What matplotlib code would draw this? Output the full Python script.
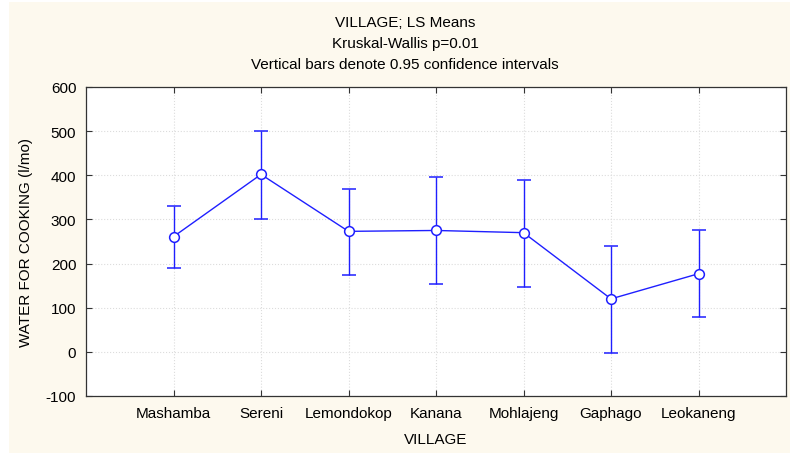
import matplotlib
matplotlib.use("Agg")
import matplotlib.pyplot as plt
import matplotlib.patches as mpatches

plt.rcParams["font.family"] = ["Liberation Sans", "DejaVu Sans"]
plt.rcParams["axes.unicode_minus"] = False

villages = ["Mashamba", "Sereni", "Lemondokop", "Kanana", "Mohlajeng", "Gaphago", "Leokaneng"]
means = [261, 402, 273, 275, 270, 120, 177]
upper = [330, 500, 370, 395, 389, 240, 275]
lower = [191, 302, 175, 153, 148, -2, 80]

W, H = 790, 456
fs = 11
fig = plt.figure(figsize=(W / 100, H / 100), dpi=100, facecolor="white")
# cream panel behind everything
fig.patches.append(mpatches.Rectangle((9 / W, 2 / H), 1, (H - 5) / H, transform=fig.transFigure,
                                      facecolor="#fdf9ee", edgecolor="none", zorder=-10))

ax = fig.add_axes([86 / W, 1 - 397 / H, 700 / W, 309 / H])
ax.set_facecolor("white")

x = list(range(1, len(villages) + 1))
yerr = [[m - l for m, l in zip(means, lower)], [u - m for u, m in zip(upper, means)]]
ax.errorbar(x, means, yerr=yerr, color="#1f1fff", lw=1, elinewidth=1, capsize=5, capthick=1,
            marker="o", markersize=7, markerfacecolor="white", markeredgecolor="#1f1fff",
            markeredgewidth=1.1, zorder=3)

ax.set_xlim(0, len(villages) + 1)
ax.set_ylim(-100, 600)
ax.set_xticks(x)
ax.set_xticklabels(villages)
ax.set_yticks(range(-100, 601, 100))
ax.tick_params(direction="in", length=4, width=0.8, labelsize=fs, top=True, right=True,
               pad=7, colors="#333333", labelcolor="black")
ax.grid(True, ls=":", color="#dcdcdc", lw=0.8)
for s in ax.spines.values():
    s.set_color("#333333")
    s.set_linewidth(0.9)

ax.set_xlabel("VILLAGE", fontsize=fs, labelpad=9)
ax.set_ylabel("WATER FOR COOKING (l/mo)", fontsize=fs, labelpad=9)

for ypx, txt in [(23, "VILLAGE; LS Means"), (44, "Kruskal-Wallis p=0.01"),
                 (65, "Vertical bars denote 0.95 confidence intervals")]:
    fig.text(405 / W, 1 - ypx / H, txt, ha="center", va="center", fontsize=fs)

fig.savefig("out.png", dpi=100)
